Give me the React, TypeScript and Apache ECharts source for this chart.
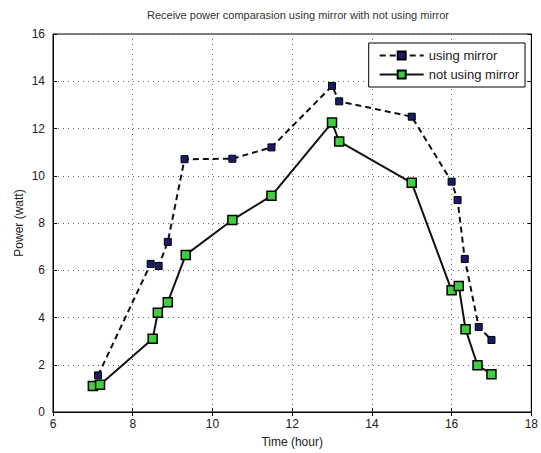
import React, { useEffect, useRef } from "react";
import * as echarts from "echarts";

const titleText = "Receive power comparasion using mirror with not using mirror";
const seriesNames = ["using mirror", "not using mirror"];
const mirrorTime = [7.13, 8.45, 8.65, 8.88, 9.3, 10.5, 11.48, 13.0, 13.18, 15.0, 16.0, 16.15, 16.33, 16.68, 17.0];
const mirrorPower = [1.55, 6.27, 6.18, 7.2, 10.7, 10.72, 11.2, 13.8, 13.15, 12.5, 9.75, 8.97, 6.48, 3.6, 3.05];
const noMirrorTime = [7.0, 7.18, 8.5, 8.63, 8.88, 9.33, 10.5, 11.48, 13.0, 13.18, 15.0, 16.0, 16.18, 16.35, 16.65, 17.0];
const noMirrorPower = [1.1, 1.15, 3.1, 4.2, 4.65, 6.65, 8.13, 9.15, 12.25, 11.45, 9.7, 5.15, 5.33, 3.5, 1.98, 1.6];

export default function App() {
  const ref = useRef<HTMLDivElement>(null);
  useEffect(() => {
    if (!ref.current) return;
    const chart = echarts.init(ref.current, null, { renderer: "svg" });
    const font = "Liberation Sans";
    const mirrorAxis = {
      type: "value",
      axisLine: { show: true, lineStyle: { color: "#000" } },
      axisTick: { inside: true, length: 4, lineStyle: { color: "#000" } },
      axisLabel: { show: false },
      splitLine: { show: false },
    };
    chart.setOption({
      animation: false,
      backgroundColor: "#ffffff",
      textStyle: { fontFamily: font },
      title: {
        text: titleText,
        left: 293,
        top: 4,
        textAlign: "center",
        textStyle: { fontSize: 11, fontWeight: "normal", color: "#333" },
      },
      legend: {
        orient: "vertical",
        right: 16,
        top: 43,
        backgroundColor: "#fff",
        borderColor: "#000",
        borderWidth: 1,
        borderRadius: 0,
        padding: [6, 6, 6, 10],
        itemGap: 6,
        itemWidth: 44,
        itemHeight: 10,
        textStyle: { fontSize: 13, color: "#222" },
        data: seriesNames,
      },
      grid: {
        left: 53,
        right: 8,
        top: 34,
        bottom: 40,
        show: true,
        borderColor: "#000",
        borderWidth: 1,
        backgroundColor: "transparent",
      },
      xAxis: [
        {
          type: "value",
          min: 6,
          max: 18,
          interval: 2,
          name: "Time (hour)",
          nameLocation: "middle",
          nameGap: 24,
          nameMoveOverlap: false,
          nameTextStyle: { fontSize: 12, color: "#222" },
          axisLine: { show: true, lineStyle: { color: "#000" } },
          axisTick: { inside: true, length: 4, lineStyle: { color: "#000" } },
          axisLabel: { fontSize: 12, color: "#222", margin: 6 },
          splitLine: { show: true, lineStyle: { color: "#666", type: [1, 4] } },
        },
        { ...mirrorAxis, position: "top", min: 6, max: 18, interval: 2 },
      ],
      yAxis: [
        {
          type: "value",
          min: 0,
          max: 16,
          interval: 2,
          name: "Power (watt)",
          nameLocation: "middle",
          nameGap: 28,
          nameMoveOverlap: false,
          nameTextStyle: { fontSize: 12, color: "#222" },
          axisLine: { show: true, lineStyle: { color: "#000" } },
          axisTick: { inside: true, length: 4, lineStyle: { color: "#000" } },
          axisLabel: { fontSize: 12, color: "#222", margin: 8 },
          splitLine: { show: true, lineStyle: { color: "#666", type: [1, 4] } },
        },
        { ...mirrorAxis, position: "right", min: 0, max: 16, interval: 2 },
      ],
      series: [
        {
          name: seriesNames[0],
          type: "line",
          data: mirrorTime.map((t, i) => [t, mirrorPower[i]]),
          symbol: "rect",
          symbolSize: 7,
          color: "#1a1a66",
          itemStyle: { color: "#1a1a66", borderColor: "#000", borderWidth: 1 },
          lineStyle: { color: "#111", width: 2, type: [6, 4] },
          z: 3,
        },
        {
          name: seriesNames[1],
          type: "line",
          data: noMirrorTime.map((t, i) => [t, noMirrorPower[i]]),
          symbol: "rect",
          symbolSize: 9,
          color: "#3fcf3f",
          itemStyle: { color: "#3fcf3f", borderColor: "#000", borderWidth: 1.5 },
          lineStyle: { color: "#111", width: 2, type: "solid" },
          z: 4,
        },
      ],
    });
    return () => chart.dispose();
  }, []);
  return <div ref={ref} style={{ width: 541, height: 453, position: "absolute", left: 0, top: 0 }} />;
}
